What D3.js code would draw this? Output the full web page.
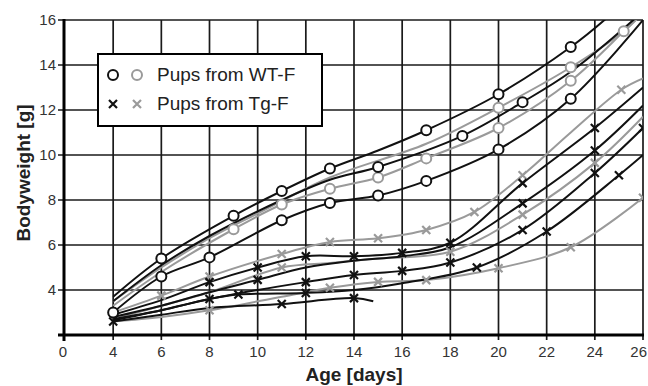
<!DOCTYPE html>
<html>
<head>
<meta charset="utf-8">
<script src="https://cdn.jsdelivr.net/npm/d3@7"></script>
<style>
  body { margin: 0; background: #fff; }
  svg { display: block; font-family: "Liberation Sans", Arial, sans-serif; }
</style>
</head>
<body>
<figure id="chart" style="margin:0"></figure>
<script>
// tick values and their printed labels (the first x tick is printed as "0")
const xTicks = [2, 4, 6, 8, 10, 12, 14, 16, 18, 20, 22, 24, 26]
const xTickLabels = ["0", "4", "6", "8", "10", "12", "14", "16", "18", "20", "22", "24", "26"]
const yTicks = [2, 4, 6, 8, 10, 12, 14, 16]
const yTickLabels = ["", "4", "6", "8", "10", "12", "14", "16"]

// pups from WT-F  [day, bodyweight g]
const wtBlack1 = [[4, 3.7], [6, 5.4], [9, 7.3], [11, 8.4], [13, 9.4], [15, 10.2], [17, 11.1], [20, 12.7], [23, 14.8], [24.4, 16], [25, 16.6]]
const wtBlack1Marks = [6, 9, 11, 13, 17, 20, 23]
const wtBlack2 = [[4, 3.5], [6, 5.1], [8, 6.4], [11, 8.0], [13, 8.9], [15, 9.47], [18.5, 10.85], [21, 12.35], [23, 13.7], [25.6, 16], [26, 16.4]]
const wtBlack2Marks = [15, 18.5, 21]
const wtBlack3 = [[4, 3.0], [6, 4.6], [8, 5.45], [11, 7.1], [13, 7.87], [15, 8.2], [17, 8.85], [20, 10.25], [23, 12.5], [26, 16]]
const wtBlack3Marks = [4, 6, 8, 11, 13, 15, 17, 20, 23]
const wtGray1 = [[4, 3.3], [6, 4.8], [9, 6.7], [11, 7.8], [13, 8.5], [15, 9.0], [17, 9.85], [20, 11.2], [23, 13.3], [25.3, 15.6], [26, 16.3]]
const wtGray1Marks = [9, 11, 13, 15, 17, 20, 23]
const wtGray2 = [[4, 3.5], [6, 5.0], [8, 6.3], [10, 7.4], [13, 9.0], [17, 10.5], [20, 12.1], [23, 13.9], [25.2, 15.5], [25.8, 16.1]]
const wtGray2Marks = [20, 23, 25.2]

// pups from Tg-F
const tgGray1 = [[4, 3.0], [6, 3.75], [8, 4.6], [11, 5.6], [13, 6.13], [15, 6.3], [17, 6.67], [19, 7.47], [21, 9.1], [23, 11.0], [25.1, 12.9], [26, 13.4]]
const tgGray1Marks = [6, 8, 11, 13, 15, 17, 19, 21, 25.1]
const tgBlack1 = [[4, 2.9], [6, 3.55], [8, 4.35], [10, 5.0], [12, 5.5], [14, 5.5], [16, 5.65], [18, 6.1], [21, 8.75], [24, 11.2], [26, 13.0]]
const tgBlack1Marks = [8, 10, 12, 14, 16, 18, 21, 24]
const tgBlack2 = [[4, 2.8], [6, 3.3], [8, 3.9], [10, 4.45], [12, 5.0], [14, 5.3], [16, 5.5], [18, 5.9], [21, 7.85], [24, 10.2], [26, 12.2]]
const tgBlack2Marks = [10, 21, 24]
const tgGray2 = [[4, 2.7], [6, 3.3], [8, 3.9], [11, 5.0], [13, 5.2], [15, 5.4], [18, 5.7], [21, 7.35], [24, 9.65], [26, 11.7]]
const tgGray2Marks = [11, 18, 21, 24]
const tgBlack3 = [[4, 2.7], [6, 3.1], [8, 3.6], [10, 4.0], [12, 4.35], [14, 4.67], [16, 4.85], [18, 5.22], [21, 6.67], [24, 9.2], [26, 11.2]]
const tgBlack3Marks = [12, 14, 16, 18, 21, 24, 26]
const tgBlack4 = [[4, 2.65], [6, 3.1], [8, 3.6], [9.2, 3.8], [12, 3.87], [14, 4.0], [16, 4.3], [19.1, 5.0], [22, 6.6], [25, 9.1], [26, 10.0]]
const tgBlack4Marks = [8, 9.2, 12, 19.1, 22, 25]
const tgGray3 = [[4, 2.6], [6, 2.8], [8, 3.1], [11, 3.7], [13, 4.1], [15, 4.36], [17, 4.44], [20, 4.97], [23, 5.9], [26, 8.1]]
const tgGray3Marks = [8, 13, 15, 17, 20, 23, 26]
const tgBlack5 = [[4, 2.6], [6, 2.9], [8, 3.2], [11, 3.38], [14, 3.64], [14.8, 3.5]]
const tgBlack5Marks = [4, 11, 14]

const legendLabels = ["Pups from WT-F", "Pups from Tg-F"]

const BLACK = "#111"
const GRAY = "#9a9a9a"

const series = [
  { pts: tgGray3, marks: tgGray3Marks, color: GRAY, shape: "x" },
  { pts: tgGray2, marks: tgGray2Marks, color: GRAY, shape: "x" },
  { pts: tgGray1, marks: tgGray1Marks, color: GRAY, shape: "x" },
  { pts: tgBlack5, marks: tgBlack5Marks, color: BLACK, shape: "x" },
  { pts: tgBlack4, marks: tgBlack4Marks, color: BLACK, shape: "x" },
  { pts: tgBlack3, marks: tgBlack3Marks, color: BLACK, shape: "x" },
  { pts: tgBlack2, marks: tgBlack2Marks, color: BLACK, shape: "x" },
  { pts: tgBlack1, marks: tgBlack1Marks, color: BLACK, shape: "x" },
  { pts: wtGray1, marks: wtGray1Marks, color: GRAY, shape: "o" },
  { pts: wtGray2, marks: wtGray2Marks, color: GRAY, shape: "o" },
  { pts: wtBlack3, marks: wtBlack3Marks, color: BLACK, shape: "o" },
  { pts: wtBlack2, marks: wtBlack2Marks, color: BLACK, shape: "o" },
  { pts: wtBlack1, marks: wtBlack1Marks, color: BLACK, shape: "o" },
]

const width = 648
const height = 386
const plotLeft = 65, plotRight = 643, plotTop = 20, plotBottom = 335

const svg = d3.select("figure#chart")
  .append("svg")
  .attr("width", width)
  .attr("height", height)

const x = d3.scaleLinear().domain([2, 26]).range([plotLeft, plotRight])
const y = d3.scaleLinear().domain([2, 16]).range([plotBottom, plotTop])

// grid
svg.append("g")
  .selectAll("line")
  .data(xTicks.slice(1))
  .enter()
  .append("line")
  .attr("x1", d => x(d)).attr("x2", d => x(d))
  .attr("y1", y(16)).attr("y2", y(2) + 5)
  .attr("stroke", "#1a1a1a")
  .attr("stroke-width", 1.7)

svg.append("g")
  .selectAll("line")
  .data(yTicks.slice(1))
  .enter()
  .append("line")
  .attr("x1", x(2) - 7).attr("x2", x(26))
  .attr("y1", d => y(d)).attr("y2", d => y(d))
  .attr("stroke", "#1a1a1a")
  .attr("stroke-width", 1.7)

// axes lines
svg.append("line")
  .attr("x1", x(2) - 1).attr("x2", x(2) - 1)
  .attr("y1", y(16) - 1).attr("y2", y(2) + 6)
  .attr("stroke", "#000").attr("stroke-width", 3)
svg.append("line")
  .attr("x1", x(2) - 7).attr("x2", x(26) + 1)
  .attr("y1", y(2)).attr("y2", y(2))
  .attr("stroke", "#000").attr("stroke-width", 3)

// tick labels
svg.append("g")
  .selectAll("text")
  .data(xTicks)
  .enter()
  .append("text")
  .attr("x", d => d === 26 ? width - 1 : x(d) - (d === 2 ? 2 : 0))
  .attr("y", y(2) + 22)
  .attr("text-anchor", d => d === 26 ? "end" : "middle")
  .attr("font-size", 15)
  .attr("fill", "#333")
  .text((d, i) => xTickLabels[i])

svg.append("g")
  .selectAll("text")
  .data(yTicks)
  .enter()
  .append("text")
  .attr("x", x(2) - 9)
  .attr("y", d => y(d) + 5)
  .attr("text-anchor", "end")
  .attr("font-size", 15)
  .attr("fill", "#333")
  .text((d, i) => yTickLabels[i])

// axis titles
svg.append("text")
  .attr("x", (x(2) + x(26)) / 2)
  .attr("y", 381)
  .attr("text-anchor", "middle")
  .attr("font-size", 19)
  .attr("font-weight", "bold")
  .attr("fill", "#222")
  .text("Age [days]")

svg.append("text")
  .attr("transform", "translate(30,173) rotate(-90)")
  .attr("text-anchor", "middle")
  .attr("font-size", 19)
  .attr("font-weight", "bold")
  .attr("fill", "#222")
  .text("Bodyweight  [g]")

// curves
svg.append("clipPath").attr("id", "plot")
  .append("rect")
  .attr("x", x(2)).attr("y", y(16))
  .attr("width", x(26) - x(2)).attr("height", y(2) - y(16))

const line = d3.line()
  .x(d => x(d[0]))
  .y(d => y(d[1]))
  .curve(d3.curveCatmullRom.alpha(0.5))

const plot = svg.append("g").attr("clip-path", "url(#plot)")

series.forEach(s => {
  plot.append("path")
    .attr("d", line(s.pts))
    .attr("fill", "none")
    .attr("stroke", s.color)
    .attr("stroke-width", 2)
})

function drawMarker(g, cx, cy, shape, color) {
  if (shape === "o") {
    g.append("circle")
      .attr("cx", cx).attr("cy", cy).attr("r", 5)
      .attr("fill", "#fff")
      .attr("stroke", color)
      .attr("stroke-width", 2)
  } else {
    const r = 4
    g.append("path")
      .attr("d", `M${cx - r},${cy - r}L${cx + r},${cy + r}M${cx - r},${cy + r}L${cx + r},${cy - r}`)
      .attr("stroke", color)
      .attr("stroke-width", 2.2)
  }
}

series.forEach(s => {
  s.pts.filter(p => s.marks.includes(p[0])).forEach(p => {
    drawMarker(plot, x(p[0]), y(p[1]), s.shape, s.color)
  })
})

// legend
const legend = svg.append("g")
legend.append("rect")
  .attr("x", 98).attr("y", 54)
  .attr("width", 224).attr("height", 72)
  .attr("fill", "#fff")
  .attr("stroke", "#000")
  .attr("stroke-width", 2)

legendLabels.forEach((label, i) => {
  const ly = 75 + i * 29
  const shape = i === 0 ? "o" : "x"
  drawMarker(legend, 113, ly, shape, BLACK)
  drawMarker(legend, 137, ly, shape, GRAY)
  legend.append("text")
    .attr("x", 157)
    .attr("y", ly + 6)
    .attr("font-size", 19)
    .attr("fill", "#222")
    .text(label)
})
</script>
</body>
</html>
